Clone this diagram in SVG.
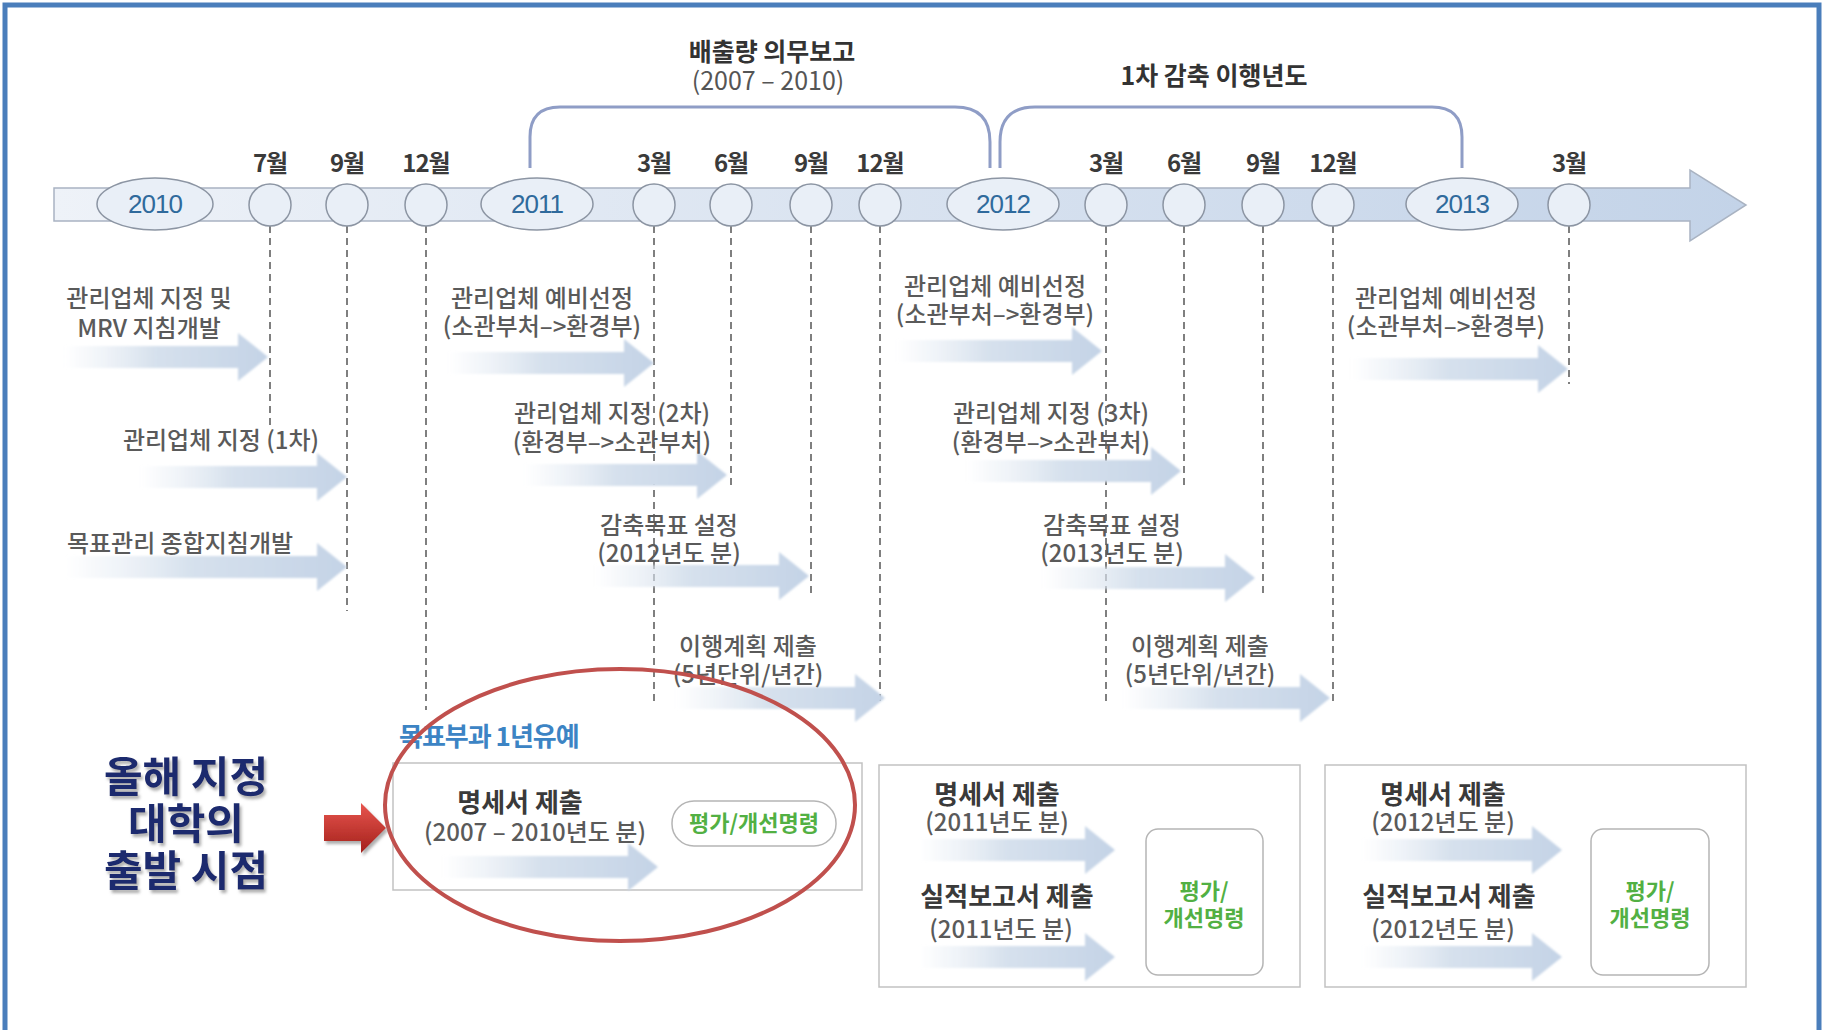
<svg xmlns="http://www.w3.org/2000/svg" width="1825" height="1030" viewBox="0 0 1825 1030">
<defs>
<linearGradient id="barG" x1="0" y1="0" x2="1" y2="0"><stop offset="0" stop-color="#eef2f8"/><stop offset="1" stop-color="#c3d3e8"/></linearGradient>
<linearGradient id="arrG" x1="0" y1="0" x2="1" y2="0"><stop offset="0" stop-color="#dfe7f1" stop-opacity="0"/><stop offset="0.45" stop-color="#d6e1ed"/><stop offset="1" stop-color="#c4d3e6"/></linearGradient>
<linearGradient id="redG" x1="0" y1="0" x2="0" y2="1"><stop offset="0" stop-color="#e8554e"/><stop offset="1" stop-color="#a3201b"/></linearGradient>
<filter id="soft" x="-5%" y="-20%" width="110%" height="140%"><feGaussianBlur stdDeviation="1.2"/></filter>
<filter id="shd" x="-10%" y="-10%" width="130%" height="140%"><feDropShadow dx="2" dy="3" stdDeviation="1.5" flood-color="#8a8a8a" flood-opacity="0.7"/></filter>
<style>
text{font-family:"Noto Sans CJK KR","Liberation Sans",sans-serif}
.frame{fill:none;stroke:#4a7ebb;stroke-width:5}
.bar{fill:url(#barG);stroke:#a9b3c2;stroke-width:1.5}
.yr{fill:#e9eff7;stroke:#8c95a3;stroke-width:1.5}
.yt{font-family:"Liberation Sans",sans-serif;font-size:26px;fill:#2f6a9c;text-anchor:middle;letter-spacing:-1px}
.mc{fill:#e9eff7;stroke:#8c95a3;stroke-width:1.5}
.mon{font-size:24px;font-weight:bold;fill:#3a3a3a;text-anchor:middle;letter-spacing:-1px}
.ttl{font-size:25px;font-weight:bold;fill:#333;text-anchor:middle}
.sub{font-size:25px;fill:#555;text-anchor:middle}
.lbl{font-size:24px;font-weight:500;fill:#5a5a5a;text-anchor:middle}
.hd{font-size:26px;font-weight:bold;fill:#3a3a3a;text-anchor:middle}
.dash{stroke:#555;stroke-width:1.5;stroke-dasharray:7 5;fill:none}
.br{fill:none;stroke:#8f9dc6;stroke-width:3}
.fa{fill:url(#arrG);filter:url(#soft)}
.box{fill:#fff;stroke:#c2c2c2;stroke-width:1.5}
.inner{fill:#fff;stroke:#b5b5b5;stroke-width:1.5}
.grn{font-size:22px;font-weight:bold;fill:#52b043;text-anchor:middle}
.blue{font-size:26px;font-weight:bold;fill:#3c84c4;letter-spacing:-1px}
.big{font-size:42px;font-weight:bold;fill:#1b2a6e;text-anchor:middle;filter:url(#shd)}
</style>
</defs>
<rect width="1825" height="1030" fill="#ffffff"/>
<rect class="frame" x="5" y="5" width="1814" height="1050"/>

<g id="timeline">
<path class="bar" d="M54,188 H1690 V170 L1746,205 L1690,241 V221 H54 Z"/>
</g>

<g id="connectors">
<path class="br" d="M530,168 V137 Q530,107 560,107 H955 Q990,107 990,142 V168"/>
<path class="br" d="M1000,168 V142 Q1000,107 1035,107 H1432 Q1462,107 1462,137 V168"/>
<line class="dash" x1="270" y1="226" x2="270" y2="425"/>
<line class="dash" x1="347" y1="226" x2="347" y2="611"/>
<line class="dash" x1="426" y1="226" x2="426" y2="710"/>
<line class="dash" x1="654" y1="226" x2="654" y2="706"/>
<line class="dash" x1="731" y1="226" x2="731" y2="489"/>
<line class="dash" x1="811" y1="226" x2="811" y2="594"/>
<line class="dash" x1="880" y1="226" x2="880" y2="706"/>
<line class="dash" x1="1106" y1="226" x2="1106" y2="706"/>
<line class="dash" x1="1184" y1="226" x2="1184" y2="489"/>
<line class="dash" x1="1263" y1="226" x2="1263" y2="594"/>
<line class="dash" x1="1333" y1="226" x2="1333" y2="706"/>
<line class="dash" x1="1569" y1="226" x2="1569" y2="384"/>
</g>

<g id="years">
<g id="y2010"><ellipse class="yr" cx="155" cy="204" rx="58" ry="26"/><text class="yt" x="155" y="213">2010</text></g>
<g id="y2011"><ellipse class="yr" cx="537" cy="204" rx="56" ry="26"/><text class="yt" x="537" y="213">2011</text></g>
<g id="y2012"><ellipse class="yr" cx="1003" cy="204" rx="56" ry="26"/><text class="yt" x="1003" y="213">2012</text></g>
<g id="y2013"><ellipse class="yr" cx="1462" cy="204" rx="56" ry="26"/><text class="yt" x="1462" y="213">2013</text></g>
</g>

<g id="months">
<g id="m1"><circle class="mc" cx="270" cy="205" r="21"/><text class="mon" x="270" y="172">7월</text></g>
<g id="m2"><circle class="mc" cx="347" cy="205" r="21"/><text class="mon" x="347" y="172">9월</text></g>
<g id="m3"><circle class="mc" cx="426" cy="205" r="21"/><text class="mon" x="426" y="172">12월</text></g>
<g id="m4"><circle class="mc" cx="654" cy="205" r="21"/><text class="mon" x="654" y="172">3월</text></g>
<g id="m5"><circle class="mc" cx="731" cy="205" r="21"/><text class="mon" x="731" y="172">6월</text></g>
<g id="m6"><circle class="mc" cx="811" cy="205" r="21"/><text class="mon" x="811" y="172">9월</text></g>
<g id="m7"><circle class="mc" cx="880" cy="205" r="21"/><text class="mon" x="880" y="172">12월</text></g>
<g id="m8"><circle class="mc" cx="1106" cy="205" r="21"/><text class="mon" x="1106" y="172">3월</text></g>
<g id="m9"><circle class="mc" cx="1184" cy="205" r="21"/><text class="mon" x="1184" y="172">6월</text></g>
<g id="m10"><circle class="mc" cx="1263" cy="205" r="21"/><text class="mon" x="1263" y="172">9월</text></g>
<g id="m11"><circle class="mc" cx="1333" cy="205" r="21"/><text class="mon" x="1333" y="172">12월</text></g>
<g id="m12"><circle class="mc" cx="1569" cy="205" r="21"/><text class="mon" x="1569" y="172">3월</text></g>
</g>

<g id="titles">
<text class="ttl" x="772" y="61">배출량 의무보고</text>
<text class="sub" x="768" y="90">(2007 – 2010)</text>
<text class="ttl" x="1214" y="85">1차 감축 이행년도</text>
</g>

<g id="tasks">
<g id="t1"><path class="fa" d="M64,346 H238 V333 L268,357 L238,381 V368 H64 Z"/><text class="lbl" x="149" y="307">관리업체 지정 및</text><text class="lbl" x="149" y="337">MRV 지침개발</text></g>
<g id="t2"><path class="fa" d="M140,466 H317 V453 L347,477 L317,501 V488 H140 Z"/><text class="lbl" x="221" y="449">관리업체 지정 (1차)</text></g>
<g id="t3"><path class="fa" d="M64,556 H317 V543 L347,567 L317,591 V578 H64 Z"/><text class="lbl" x="180" y="552">목표관리 종합지침개발</text></g>
<g id="t4"><path class="fa" d="M448,352 H624 V339 L654,363 L624,387 V374 H448 Z"/><text class="lbl" x="542" y="307">관리업체 예비선정</text><text class="lbl" x="542" y="335">(소관부처–&gt;환경부)</text></g>
<g id="t5"><path class="fa" d="M524,464 H697 V451 L727,475 L697,499 V486 H524 Z"/><text class="lbl" x="612" y="422">관리업체 지정 (2차)</text><text class="lbl" x="612" y="451">(환경부–&gt;소관부처)</text></g>
<g id="t6"><path class="fa" d="M594,565 H779 V552 L809,576 L779,600 V587 H594 Z"/><text class="lbl" x="669" y="534">감축목표 설정</text><text class="lbl" x="669" y="562">(2012년도 분)</text></g>
<g id="t7"><path class="fa" d="M675,687 H855 V674 L885,698 L855,722 V709 H675 Z"/><text class="lbl" x="748" y="655">이행계획 제출</text><text class="lbl" x="748" y="683">(5년단위/년간)</text></g>
<g id="t8"><path class="fa" d="M896,340 H1072 V327 L1102,351 L1072,375 V362 H896 Z"/><text class="lbl" x="995" y="295">관리업체 예비선정</text><text class="lbl" x="995" y="323">(소관부처–&gt;환경부)</text></g>
<g id="t9"><path class="fa" d="M966,460 H1151 V447 L1181,471 L1151,495 V482 H966 Z"/><text class="lbl" x="1051" y="422">관리업체 지정 (3차)</text><text class="lbl" x="1051" y="451">(환경부–&gt;소관부처)</text></g>
<g id="t10"><path class="fa" d="M1042,567 H1225 V554 L1255,578 L1225,602 V589 H1042 Z"/><text class="lbl" x="1112" y="534">감축목표 설정</text><text class="lbl" x="1112" y="562">(2013년도 분)</text></g>
<g id="t11"><path class="fa" d="M1123,687 H1300 V674 L1330,698 L1300,722 V709 H1123 Z"/><text class="lbl" x="1200" y="655">이행계획 제출</text><text class="lbl" x="1200" y="683">(5년단위/년간)</text></g>
<g id="t12"><path class="fa" d="M1350,358 H1538 V345 L1568,369 L1538,393 V380 H1350 Z"/><text class="lbl" x="1446" y="307">관리업체 예비선정</text><text class="lbl" x="1446" y="335">(소관부처–&gt;환경부)</text></g>
</g>

<g id="box1">
<text class="blue" x="399" y="746">목표부과 1년유예</text>
<rect class="box" x="393" y="763" width="469" height="127"/>
<path class="fa" d="M442,856 H628 V843 L658,867 L628,891 V878 H442 Z"/>
<text class="hd" x="520" y="812">명세서 제출</text>
<text class="lbl" x="535" y="841">(2007 – 2010년도 분)</text>
<rect class="inner" x="672" y="801" width="164" height="45" rx="22"/>
<text class="grn" x="754" y="831">평가/개선명령</text>
</g>

<g id="box2">
<rect class="box" x="879" y="765" width="421" height="222"/>
<path class="fa" d="M919,839 H1085 V826 L1115,850 L1085,874 V861 H919 Z"/>
<path class="fa" d="M919,946 H1085 V933 L1115,957 L1085,981 V968 H919 Z"/>
<text class="hd" x="997" y="804">명세서 제출</text>
<text class="lbl" x="997" y="831">(2011년도 분)</text>
<text class="hd" x="1007" y="906">실적보고서 제출</text>
<text class="lbl" x="1001" y="938">(2011년도 분)</text>
<rect class="inner" x="1146" y="829" width="117" height="146" rx="12"/>
<text class="grn" x="1204" y="899">평가/</text>
<text class="grn" x="1204" y="926">개선명령</text>
</g>

<g id="box3">
<rect class="box" x="1325" y="765" width="421" height="222"/>
<path class="fa" d="M1362,839 H1532 V826 L1562,850 L1532,874 V861 H1362 Z"/>
<path class="fa" d="M1362,946 H1532 V933 L1562,957 L1532,981 V968 H1362 Z"/>
<text class="hd" x="1443" y="804">명세서 제출</text>
<text class="lbl" x="1443" y="831">(2012년도 분)</text>
<text class="hd" x="1449" y="906">실적보고서 제출</text>
<text class="lbl" x="1443" y="938">(2012년도 분)</text>
<rect class="inner" x="1591" y="829" width="118" height="146" rx="12"/>
<text class="grn" x="1650" y="899">평가/</text>
<text class="grn" x="1650" y="926">개선명령</text>
</g>

<g id="annotation">
<ellipse cx="620" cy="805" rx="235" ry="136" fill="none" stroke="#c0504d" stroke-width="4"/>
<path d="M324,815 H361 V803 L386,828 L361,853 V841 H324 Z" fill="url(#redG)" filter="url(#shd)"/>
<text class="big" x="186" y="792">올해 지정</text>
<text class="big" x="186" y="839">대학의</text>
<text class="big" x="186" y="886">출발 시점</text>
</g>
</svg>
